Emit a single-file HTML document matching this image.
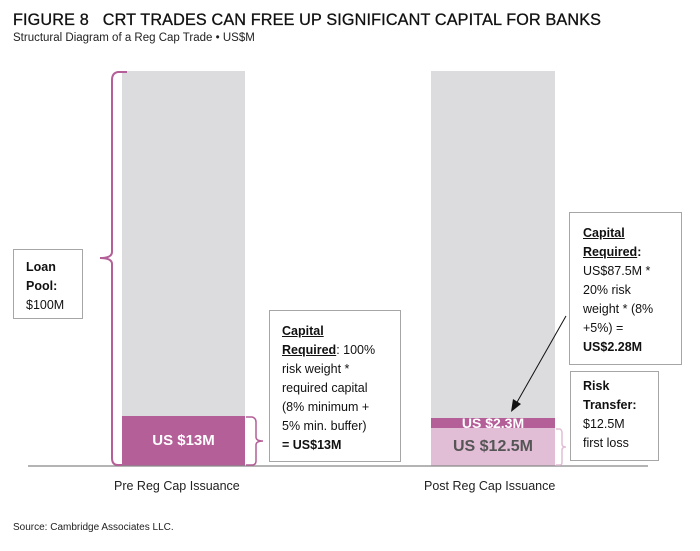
<!DOCTYPE html>
<html><head><meta charset="utf-8"><style>
body{margin:0;width:700px;height:551px;background:#fff;position:relative;font-family:"Liberation Sans",sans-serif;overflow:hidden}
.a{position:absolute}
.box{position:absolute;border:1px solid #a6a6a6;background:#fff;font-size:12.5px;line-height:19px;color:#111;padding:8px 0 0 12px;box-sizing:border-box}
u{text-decoration:underline}
</style></head><body>
<div class="a" style="left:13px;top:11px;font-size:16.2px;color:#111;letter-spacing:0.15px;-webkit-text-stroke:0.3px #111">FIGURE 8&nbsp;&nbsp; CRT TRADES CAN FREE UP SIGNIFICANT CAPITAL FOR BANKS</div>
<div class="a" style="left:13px;top:32px;font-size:11.5px;color:#222">Structural Diagram of a Reg Cap Trade • US$M</div>

<div class="a" style="left:122px;top:71px;width:123px;height:345px;background:#dcdcde"></div>
<div class="a" style="left:122px;top:416px;width:123px;height:50px;background:#b45f98;color:#fff;font-size:15px;font-weight:bold;text-align:center;line-height:50px">US $13M</div>

<div class="a" style="left:431px;top:71px;width:124px;height:347px;background:#dcdcde"></div>
<div class="a" style="left:431px;top:418px;width:124px;height:10px;background:#b45f98;color:#fff;font-size:14px;font-weight:bold;text-align:center;line-height:10px;overflow:visible">US $2.3M</div>
<div class="a" style="left:431px;top:428px;width:124px;height:38px;background:#e2bdd6;color:#555;font-size:16px;font-weight:bold;text-align:center;line-height:38px">US $12.5M</div>

<svg class="a" style="left:0;top:0" width="700" height="551">
<line x1="28" y1="466" x2="648" y2="466" stroke="#888" stroke-width="1.3"/>
<path d="M127,72 L118,72 Q112,73 112,80 L112,252 Q112,258 100,258 Q112,258 112,264 L112,458 Q112,465 118,465 L122,465" fill="none" stroke="#b45f98" stroke-width="2"/>
<path d="M246,417 L252,417 Q256,418 256,422 L256,437 Q256,441 263,441 Q256,441 256,445 L256,461 Q256,465 252,465 L246,465" fill="none" stroke="#b45f98" stroke-width="1.5"/>
<path d="M556,429 L560,429 Q562,430 562,433 L562,444 Q562,447 566,447 Q562,447 562,450 L562,462 Q562,465 560,465 L556,465" fill="none" stroke="#e2bdd6" stroke-width="1.5"/>
<line x1="566" y1="316" x2="516" y2="404" stroke="#111" stroke-width="1"/>
<polygon points="511,412 513,399 521,404" fill="#111"/>
</svg>

<div class="box" style="left:13px;top:249px;width:70px;height:70px;padding-left:12px"><b>Loan<br>Pool:</b><br>$100M</div>
<div class="box" style="left:269px;top:310px;width:132px;height:152px;padding-top:11px"><b><u>Capital</u><br><u>Required</u></b>: 100%<br>risk weight *<br>required capital<br>(8% minimum +<br>5% min. buffer)<br><b>= US$13M</b></div>
<div class="box" style="left:569px;top:212px;width:113px;height:153px;padding-top:11px;padding-left:13px"><b><u>Capital</u><br><u>Required</u>:</b><br>US$87.5M *<br>20% risk<br>weight * (8%<br>+5%) =<br><b>US$2.28M</b></div>
<div class="box" style="left:570px;top:371px;width:89px;height:90px;padding-top:5px;padding-left:12px"><b>Risk<br>Transfer:</b><br>$12.5M<br>first loss</div>

<div class="a" style="left:114px;top:479px;font-size:12.5px;color:#222">Pre Reg Cap Issuance</div>
<div class="a" style="left:424px;top:479px;font-size:12.5px;color:#222">Post Reg Cap Issuance</div>
<div class="a" style="left:13px;top:522px;font-size:10px;color:#222">Source: Cambridge Associates LLC.</div>
</body></html>
